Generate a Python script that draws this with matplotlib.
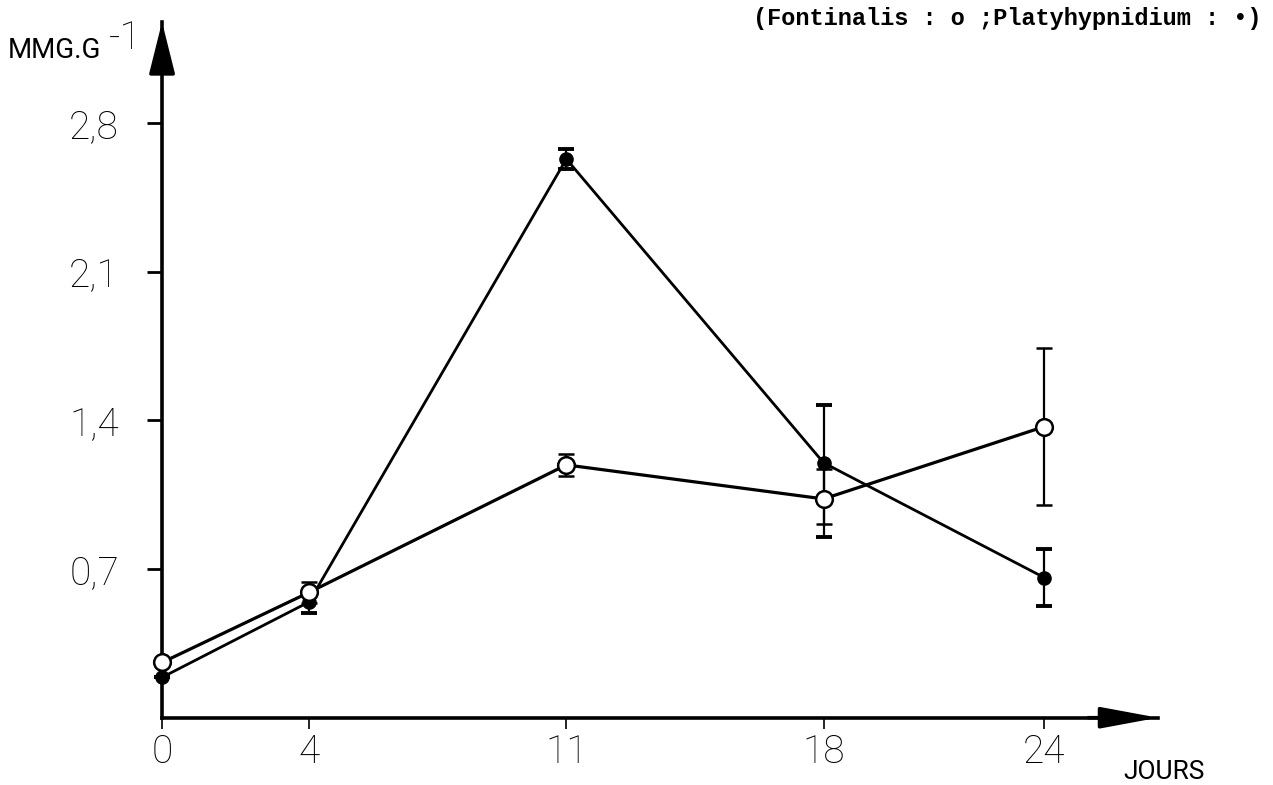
#!/usr/bin/env python3
"""Teneur en fonction du temps pour Fontinalis et Platyhypnidium."""
import matplotlib

matplotlib.use("Agg")
import matplotlib.pyplot as plt

# jours de prélèvement
days = [0, 4, 11, 18, 24]
day_labels = ["0", "4", "11", "18", "24"]

# Fontinalis (cercles vides)
fontinalis = [0.26, 0.59, 1.19, 1.03, 1.37]
fontinalis_err_low = [0.0, 0.05, 0.05, 0.12, 0.37]
fontinalis_err_high = [0.0, 0.05, 0.05, 0.14, 0.37]

# Platyhypnidium (cercles pleins)
platy = [0.19, 0.545, 2.63, 1.20, 0.66]
platy_err_low = [0.0, 0.05, 0.045, 0.35, 0.135]
platy_err_high = [0.0, 0.05, 0.045, 0.27, 0.135]

y_ticks = [0.7, 1.4, 2.1, 2.8]
y_labels = ["0,7", "1,4", "2,1", "2,8"]

SANS = ["Roboto", "DejaVu Sans"]

fig = plt.figure(figsize=(12.73, 7.85), dpi=100)
ax = fig.add_axes([0.1273, 0.0857, 0.7824, 0.8863])
ax.set_xlim(0, 27.1)
ax.set_ylim(0, 3.275)

for side in ("top", "right"):
    ax.spines[side].set_visible(False)
for side in ("left", "bottom"):
    ax.spines[side].set_linewidth(2.6)

# flèches au bout des axes
ax.annotate("", xy=(0, 1), xycoords="axes fraction", xytext=(0, 0.93),
            arrowprops=dict(arrowstyle="-|>,head_length=3.2,head_width=0.8",
                            color="k", lw=2.6, shrinkA=0, shrinkB=0,
                            mutation_scale=10), annotation_clip=False)
ax.annotate("", xy=(1, 0), xycoords="axes fraction", xytext=(0.93, 0),
            arrowprops=dict(arrowstyle="-|>,head_length=3.5,head_width=0.65",
                            color="k", lw=2.6, shrinkA=0, shrinkB=0,
                            mutation_scale=10), annotation_clip=False)

ax.set_xticks(days)
ax.set_xticklabels(day_labels, family=SANS, fontweight="light", fontsize=28)
ax.set_yticks(y_ticks)
ax.set_yticklabels(y_labels, family=SANS, fontweight="light", fontsize=28)
ax.tick_params(axis="x", direction="out", length=8, width=1.2, pad=3)
ax.tick_params(axis="y", direction="out", length=11, width=2.0, pad=20)

common = dict(color="k", lw=2.0, capsize=6, capthick=2.8, elinewidth=1.6,
              clip_on=False)
ax.errorbar(days, platy, yerr=[platy_err_low, platy_err_high],
            fmt="o", ms=9.5, mfc="k", mec="k", zorder=3, **common)
ax.errorbar(days, fontinalis, yerr=[fontinalis_err_low, fontinalis_err_high],
            fmt="o", ms=12, mfc="white", mec="k", mew=1.8, zorder=4, **common)
ax.plot(days, platy, color="k", lw=2.0, zorder=2, clip_on=False)
ax.plot(days, fontinalis, color="k", lw=2.3, zorder=2, clip_on=False)

# libellés des axes
ax.text(-4.2, 3.14, "MMG.G", family=SANS, fontsize=20, ha="left", va="center")
ax.text(-1.45, 3.20, "-1", family=SANS, fontweight="light", fontsize=28,
        ha="left", va="center")
ax.text(27.26, -0.255, "JOURS", family=SANS, fontsize=19, ha="center",
        va="center")

fig.text(0.991, 0.977, "(Fontinalis : o ;Platyhypnidium : \u2022)",
         family=["Liberation Mono", "DejaVu Sans Mono"], fontsize=17,
         fontweight="bold", ha="right", va="center")

fig.savefig("out.png", dpi=100)
